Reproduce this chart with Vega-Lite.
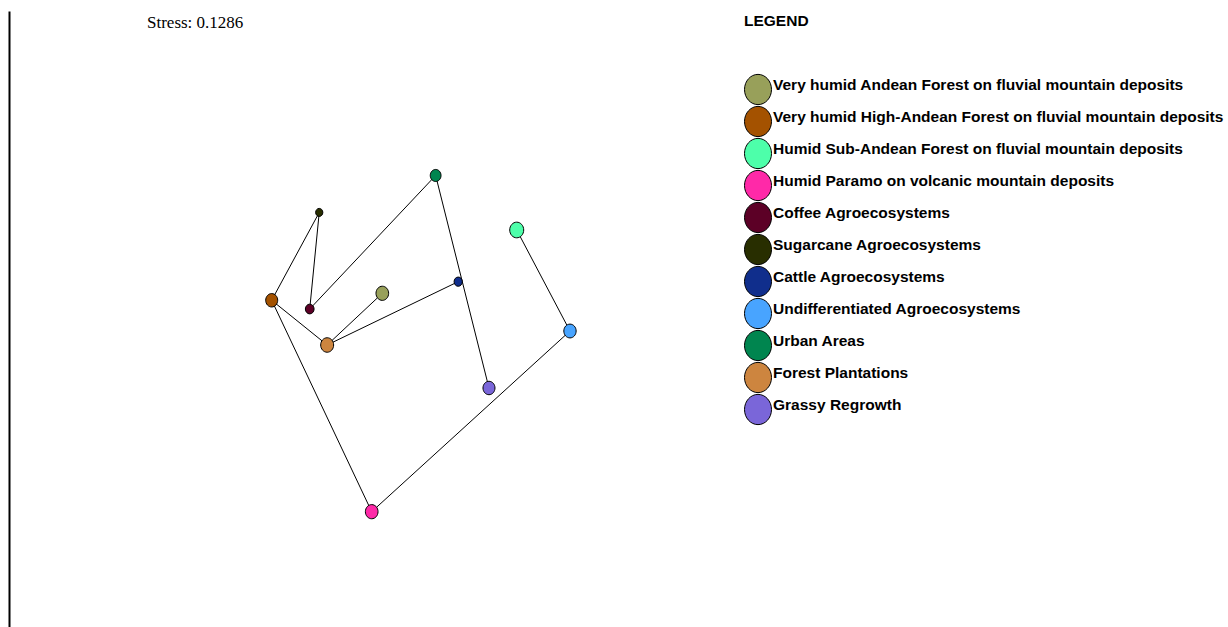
{
  "$schema": "https://vega.github.io/schema/vega-lite/v6.json",
  "width": 1219,
  "height": 616,
  "autosize": {"type": "none"},
  "padding": {"left": 9, "top": 11, "right": 0, "bottom": 0},
  "background": "white",
  "title": {
    "text": "Stress: 0.1286",
    "anchor": "start",
    "frame": "group",
    "orient": "top",
    "font": "Liberation Serif",
    "fontSize": 17,
    "fontWeight": "normal",
    "color": "black",
    "baseline": "alphabetic",
    "dx": 138,
    "offset": -34
  },
  "datasets": {
    "nodes": [
      {"name": "Very humid Andean Forest on fluvial mountain deposits", "x": -0.3875, "y": 0.0417, "n": 40},
      {"name": "Very humid High-Andean Forest on fluvial mountain deposits", "x": -0.569, "y": 0.0304, "n": 36},
      {"name": "Humid Sub-Andean Forest on fluvial mountain deposits", "x": -0.167, "y": 0.1445, "n": 49},
      {"name": "Humid Paramo on volcanic mountain deposits", "x": -0.4049, "y": -0.3128, "n": 40},
      {"name": "Coffee Agroecosystems", "x": -0.5066, "y": 0.0162, "n": 19},
      {"name": "Sugarcane Agroecosystems", "x": -0.491, "y": 0.173, "n": 13},
      {"name": "Cattle Agroecosystems", "x": -0.263, "y": 0.0606, "n": 17},
      {"name": "Undifferentiated Agroecosystems", "x": -0.0796, "y": -0.0195, "n": 38},
      {"name": "Urban Areas", "x": -0.3, "y": 0.233, "n": 29},
      {"name": "Forest Plantations", "x": -0.478, "y": -0.0422, "n": 42},
      {"name": "Grassy Regrowth", "x": -0.2125, "y": -0.112, "n": 36}
    ],
    "edges": [
      {"from": "Sugarcane Agroecosystems", "to": "Very humid High-Andean Forest on fluvial mountain deposits"},
      {"from": "Sugarcane Agroecosystems", "to": "Coffee Agroecosystems"},
      {"from": "Coffee Agroecosystems", "to": "Urban Areas"},
      {"from": "Urban Areas", "to": "Grassy Regrowth"},
      {"from": "Cattle Agroecosystems", "to": "Forest Plantations"},
      {"from": "Very humid Andean Forest on fluvial mountain deposits", "to": "Forest Plantations"},
      {"from": "Very humid High-Andean Forest on fluvial mountain deposits", "to": "Forest Plantations"},
      {"from": "Very humid High-Andean Forest on fluvial mountain deposits", "to": "Humid Paramo on volcanic mountain deposits"},
      {"from": "Humid Paramo on volcanic mountain deposits", "to": "Undifferentiated Agroecosystems"},
      {"from": "Undifferentiated Agroecosystems", "to": "Humid Sub-Andean Forest on fluvial mountain deposits"}
    ]
  },
  "layer": [
    {
      "data": {"name": "edges"},
      "transform": [
        {"lookup": "from", "from": {"data": {"name": "nodes"}, "key": "name", "fields": ["x", "y"]}, "as": ["xa", "ya"]},
        {"lookup": "to", "from": {"data": {"name": "nodes"}, "key": "name", "fields": ["x", "y"]}, "as": ["xb", "yb"]}
      ],
      "mark": {"type": "rule", "color": "black", "strokeWidth": 1},
      "encoding": {
        "x": {"field": "xa", "type": "quantitative", "scale": {"domain": [-1, 1], "nice": false, "zero": false}, "axis": null},
        "y": {"field": "ya", "type": "quantitative", "scale": {"domain": [-0.5, 0.5], "nice": false, "zero": false},
              "axis": {"domain": true, "domainColor": "black", "domainWidth": 2, "ticks": false, "labels": false, "title": null, "grid": false}},
        "x2": {"field": "xb"},
        "y2": {"field": "yb"}
      }
    },
    {
      "data": {"name": "nodes"},
      "mark": {
        "type": "point",
        "filled": true,
        "opacity": 1,
        "stroke": "black",
        "strokeWidth": 1,
        "shape": "M-1,0A1,1.12,0,1,1,1,0A1,1.12,0,1,1,-1,0Z"
      },
      "encoding": {
        "x": {"field": "x", "type": "quantitative"},
        "y": {"field": "y", "type": "quantitative"},
        "size": {"field": "n", "type": "quantitative", "scale": {"domain": [0, 50], "range": [0, 200]}, "legend": null},
        "color": {
          "field": "name",
          "type": "nominal",
          "scale": {
            "domain": [
              "Very humid Andean Forest on fluvial mountain deposits",
              "Very humid High-Andean Forest on fluvial mountain deposits",
              "Humid Sub-Andean Forest on fluvial mountain deposits",
              "Humid Paramo on volcanic mountain deposits",
              "Coffee Agroecosystems",
              "Sugarcane Agroecosystems",
              "Cattle Agroecosystems",
              "Undifferentiated Agroecosystems",
              "Urban Areas",
              "Forest Plantations",
              "Grassy Regrowth"
            ],
            "range": ["#98a05a", "#a45200", "#4dffaa", "#ff29a8", "#5c0026", "#282e00", "#102e8c", "#48a4ff", "#00854f", "#cd853f", "#7a66d9"]
          },
          "legend": {
            "title": "LEGEND",
            "orient": "none",
            "legendX": 735,
            "legendY": 3,
            "titleFont": "Liberation Sans",
            "titleFontSize": 15.5,
            "titleFontWeight": "bold",
            "titleColor": "black",
            "titlePadding": 46,
            "labelFont": "Liberation Sans",
            "labelFontSize": 15.5,
            "labelFontWeight": "bold",
            "labelColor": "black",
            "labelBaseline": "alphabetic",
            "labelOffset": 1,
            "labelLimit": 600,
            "symbolType": "M-1,0A1,1.12,0,1,1,1,0A1,1.12,0,1,1,-1,0Z",
            "symbolSize": 729,
            "symbolStrokeColor": "black",
            "symbolStrokeWidth": 1,
            "symbolOpacity": 1,
            "rowPadding": -4
          }
        }
      }
    }
  ],
  "config": {
    "view": {"stroke": null}
  }
}
